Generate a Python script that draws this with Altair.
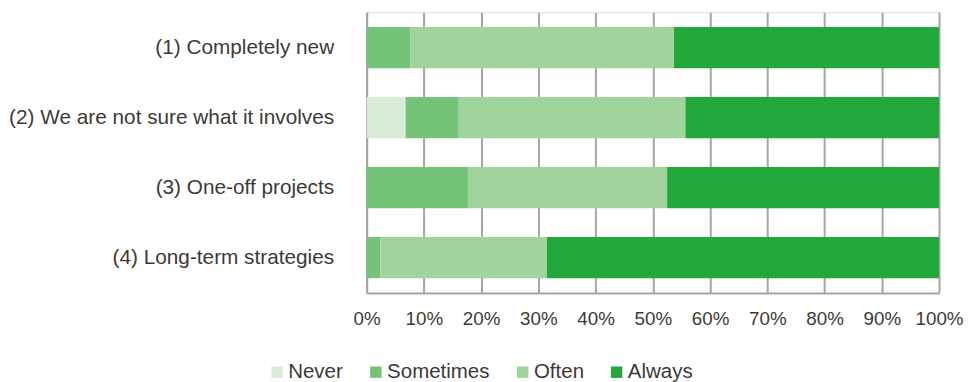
import altair as alt
import pandas as pd

categories = [
    "(1) Completely new",
    "(2) We are not sure what it involves",
    "(3) One-off projects",
    "(4) Long-term strategies",
]
series = ["Never", "Sometimes", "Often", "Always"]
never = [0.0, 6.8, 0.0, 0.0]
sometimes = [7.6, 9.3, 17.7, 2.4]
often = [46.1, 39.6, 34.8, 29.1]
always = [46.3, 44.3, 47.5, 68.5]
colors = ["#d9ebd9", "#75c378", "#a1d39d", "#21a73a"]
tick_values = [0, 0.1, 0.2, 0.3, 0.4, 0.5, 0.6, 0.7, 0.8, 0.9, 1.0]

rows = []
for i, c in enumerate(categories):
    for j, (s, vals) in enumerate(zip(series, [never, sometimes, often, always])):
        rows.append({"category": c, "series": s, "value": vals[i], "order": j})
df = pd.DataFrame(rows)

FONT = "Liberation Sans"
TXT = "#3d3a36"
GRID = "#a6a6a6"

chart = (
    alt.Chart(df)
    .mark_bar()
    .encode(
        y=alt.Y(
            "category:N",
            sort=categories,
            title=None,
            scale=alt.Scale(paddingInner=0.41, paddingOuter=0.21),
            axis=alt.Axis(
                labelFont=FONT,
                labelFontSize=20.8,
                labelColor=TXT,
                labelPadding=33,
                ticks=False,
                domain=True,
                domainColor=GRID,
                domainWidth=2,
                grid=False,
                labelLimit=500,
            ),
        ),
        x=alt.X(
            "value:Q",
            stack="normalize",
            title=None,
            scale=alt.Scale(domain=[0, 1], nice=False),
            axis=alt.Axis(
                values=tick_values,
                format=".0%",
                labelFont=FONT,
                labelFontSize=18.8,
                labelColor=TXT,
                labelPadding=17,
                labelOverlap=False,
                labelFlush=False,
                ticks=False,
                domain=True,
                domainColor=GRID,
                domainWidth=2,
                grid=True,
                gridColor=GRID,
                gridWidth=2,
            ),
        ),
        color=alt.Color(
            "series:N",
            sort=series,
            scale=alt.Scale(domain=series, range=colors),
            legend=alt.Legend(
                title=None,
                orient="none",
                direction="horizontal",
                legendX=-100,
                legendY=350,
                symbolType="square",
                symbolSize=130,
                symbolStrokeWidth=0,
                symbolOpacity=1,
                labelFont=FONT,
                labelFontSize=20.5,
                labelColor=TXT,
                labelOffset=1,
                columnPadding=22,
            ),
        ),
        order=alt.Order("order:Q", sort="ascending"),
    )
    .properties(width=573, height=281, padding={"left": 0, "top": 4, "right": 0, "bottom": 0})
    .configure_view(stroke=None)
    .configure(background="white")
)

chart.save("out.html", embed_options={"renderer": "svg", "actions": False})
